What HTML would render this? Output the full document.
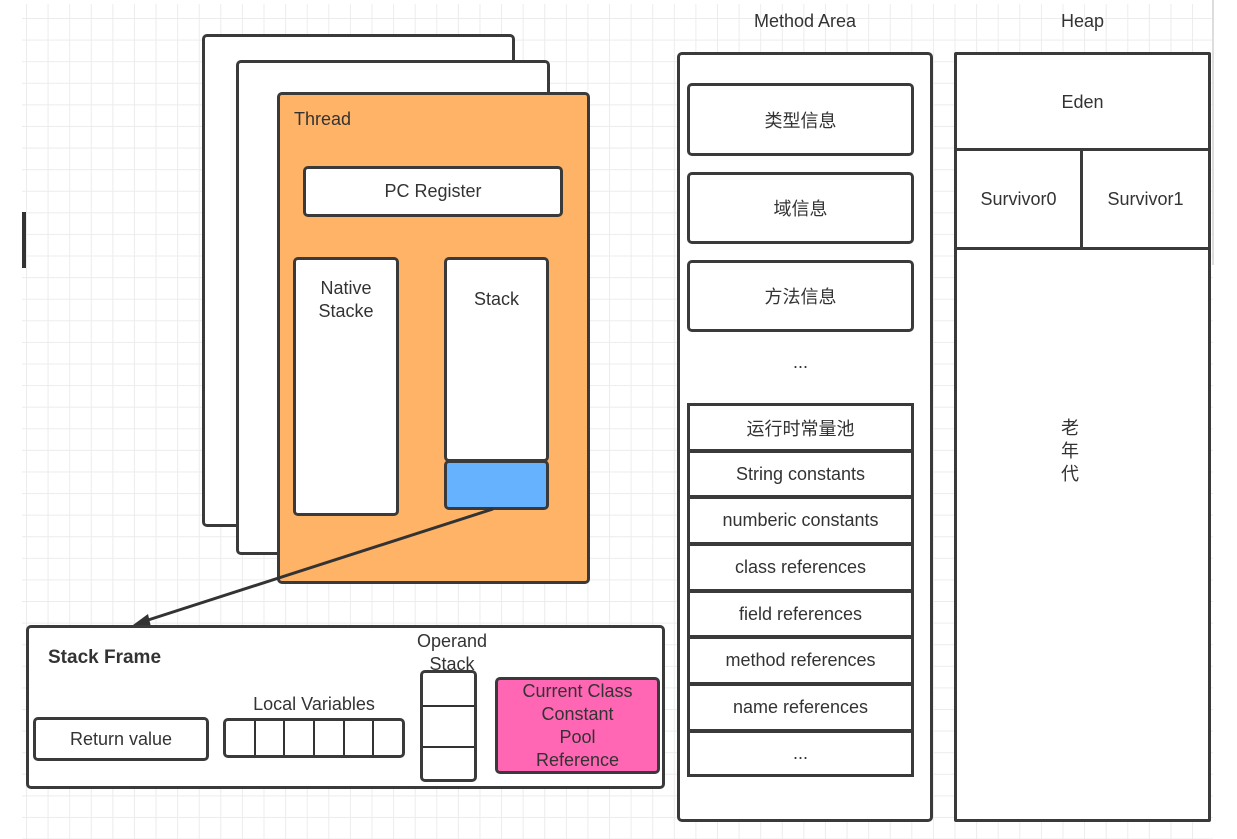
<!DOCTYPE html>
<html><head><meta charset="utf-8"><style>
body{margin:0;width:1237px;height:839px;position:relative;overflow:hidden;background:#fff;font-family:"Liberation Sans","Noto Sans CJK SC",sans-serif;color:#333;}
.grid{position:absolute;left:22px;top:4px;width:1191px;height:835px;
background-image:linear-gradient(#ececec 1px,transparent 1px),linear-gradient(90deg,#ececec 1px,transparent 1px);
background-size:21.6px 21.6px;background-position:4px 14px;}
.b{position:absolute;box-sizing:border-box;border:3px solid #3a3a3a;border-radius:5px;background:#fff;}
.t{position:absolute;font-size:18px;text-align:center;}
.c{display:flex;align-items:center;justify-content:center;text-align:center;font-size:18px;}
.row{position:absolute;left:687px;width:227px;box-sizing:border-box;border:3px solid #3a3a3a;background:#fff;}
</style></head><body>
<div class="grid"></div>
<div style="position:absolute;left:1212px;top:0;width:2px;height:265px;background:#ddd"></div>
<div style="position:absolute;left:22px;top:212px;width:4px;height:56px;background:#333"></div>

<div class="b" style="left:202px;top:34px;width:313px;height:493px"></div>
<div class="b" style="left:236px;top:60px;width:314px;height:495px"></div>
<div class="b" style="left:277px;top:92px;width:313px;height:492px;background:#ffb366"></div>
<div class="t" style="left:294px;top:109px">Thread</div>
<div class="b c" style="left:303px;top:166px;width:260px;height:51px">PC Register</div>
<div class="b" style="left:293px;top:257px;width:106px;height:259px;padding-top:17px;text-align:center;font-size:18px;line-height:23px">Native<br>Stacke</div>
<div class="b" style="left:444px;top:257px;width:105px;height:205px;padding-top:29px;text-align:center;font-size:18px">Stack</div>
<div class="b" style="left:444px;top:460px;width:105px;height:50px;background:#66b2ff"></div>

<svg style="position:absolute;left:0;top:0" width="1237" height="839">
<line x1="493" y1="509" x2="145" y2="621" stroke="#333" stroke-width="3"/>
<polygon points="133,625 148,614 151,627" fill="#333"/>
</svg>

<div class="b" style="left:26px;top:625px;width:639px;height:164px"></div>
<div class="t" style="left:48px;top:647px;font-weight:bold;font-size:19px">Stack Frame</div>
<div class="b c" style="left:33px;top:717px;width:176px;height:44px">Return value</div>
<div class="t" style="left:223px;top:694px;width:182px">Local Variables</div>
<div class="b" style="left:223px;top:718px;width:182px;height:40px;display:flex">
<div style="flex:1;border-right:2px solid #333"></div><div style="flex:1;border-right:2px solid #333"></div><div style="flex:1;border-right:2px solid #333"></div><div style="flex:1;border-right:2px solid #333"></div><div style="flex:1;border-right:2px solid #333"></div><div style="flex:1"></div></div>
<div class="t" style="left:400px;top:630px;width:104px;line-height:23px">Operand<br>Stack</div>
<div class="b" style="left:420px;top:670px;width:57px;height:112px">
<div style="position:absolute;left:0;right:0;top:32px;border-top:2px solid #333"></div>
<div style="position:absolute;left:0;right:0;top:73px;border-top:2px solid #333"></div></div>
<div class="b c" style="left:495px;top:677px;width:165px;height:97px;background:#ff66b3;line-height:23px">Current Class<br>Constant<br>Pool<br>Reference</div>

<div class="t" style="left:677px;top:11px;width:256px">Method Area</div>
<div class="b" style="left:677px;top:52px;width:256px;height:770px"></div>
<div class="b c" style="left:687px;top:83px;width:227px;height:73px">类型信息</div>
<div class="b c" style="left:687px;top:172px;width:227px;height:72px">域信息</div>
<div class="b c" style="left:687px;top:260px;width:227px;height:72px">方法信息</div>
<div class="t" style="left:687px;top:352px;width:227px">...</div>
<div class="row c" style="top:403px;height:49px">运行时常量池</div>
<div class="row c" style="top:450px;height:48px">String constants</div>
<div class="row c" style="top:496px;height:49px">numberic constants</div>
<div class="row c" style="top:543px;height:49px">class references</div>
<div class="row c" style="top:590px;height:48px">field references</div>
<div class="row c" style="top:636px;height:49px">method references</div>
<div class="row c" style="top:683px;height:49px">name references</div>
<div class="row c" style="top:730px;height:47px">...</div>

<div class="t" style="left:954px;top:11px;width:257px">Heap</div>
<div class="b" style="left:954px;top:52px;width:257px;height:770px;border-radius:2px"></div>
<div class="c" style="position:absolute;left:957px;top:55px;width:251px;height:94px">Eden</div>
<div style="position:absolute;left:954px;top:148px;width:257px;height:3px;background:#3a3a3a"></div>
<div style="position:absolute;left:954px;top:247px;width:257px;height:3px;background:#3a3a3a"></div>
<div style="position:absolute;left:1080px;top:148px;width:3px;height:100px;background:#3a3a3a"></div>
<div class="c" style="position:absolute;left:957px;top:151px;width:123px;height:96px">Survivor0</div>
<div class="c" style="position:absolute;left:1083px;top:151px;width:125px;height:96px">Survivor1</div>
<div class="t" style="left:1055px;top:417px;width:30px;line-height:23px">老<br>年<br>代</div>
</body></html>
